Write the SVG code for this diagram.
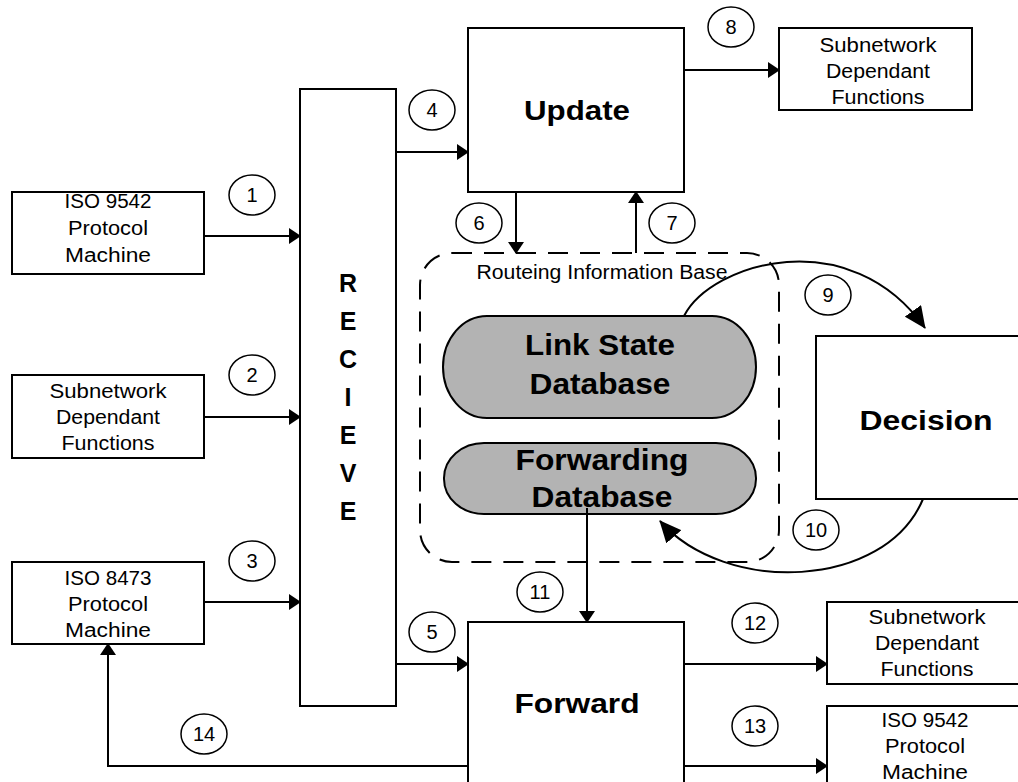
<svg xmlns="http://www.w3.org/2000/svg" width="1018" height="782" viewBox="0 0 1018 782">
<defs>
<style>
.box{fill:#fff;stroke:#000;stroke-width:2}
.pill{fill:#b3b3b3;stroke:#000;stroke-width:2}
.rib{fill:none;stroke:#000;stroke-width:2;stroke-dasharray:20 12}
.ln{fill:none;stroke:#000;stroke-width:2}
.num{fill:#fff;stroke:#000;stroke-width:1.5}
text{font-family:"Liberation Sans",Arial,sans-serif;text-anchor:middle;fill:#000}
.t{font-size:20px}
.b{font-size:28px;font-weight:bold}
.db{font-size:30px;font-weight:bold}
.r{font-size:25px;font-weight:bold}
</style>
<marker id="ah" markerUnits="userSpaceOnUse" markerWidth="12" markerHeight="16" refX="11" refY="8" orient="auto"><path d="M0,0 L12,8 L0,16 z"/></marker>
<marker id="ahb" markerUnits="userSpaceOnUse" markerWidth="22" markerHeight="20" refX="21" refY="10" orient="auto"><path d="M0,0 L22,10 L0,20 z"/></marker>
</defs>
<rect width="1018" height="782" fill="#fff"/>

<g id="rib">
<rect class="rib" x="420" y="253" width="359" height="309" rx="32" ry="32"/>
<text class="t" x="602" y="279" textLength="251" lengthAdjust="spacingAndGlyphs">Routeing Information Base</text>
</g>

<g id="link-state-db">
<rect class="pill" x="443" y="316" width="313" height="102" rx="44" ry="51"/>
<text class="db" x="600" y="355" textLength="150" lengthAdjust="spacingAndGlyphs">Link State</text>
<text class="db" x="600" y="394" textLength="141" lengthAdjust="spacingAndGlyphs">Database</text>
</g>

<g id="forwarding-db">
<rect class="pill" x="444" y="443" width="312" height="71" rx="40" ry="35"/>
<text class="db" x="602" y="470" textLength="173" lengthAdjust="spacingAndGlyphs">Forwarding</text>
<text class="db" x="602" y="507" textLength="141" lengthAdjust="spacingAndGlyphs">Database</text>
</g>

<g id="iso9542-in">
<rect class="box" x="12" y="192" width="192" height="82"/>
<text class="t" x="108" y="208" textLength="87" lengthAdjust="spacingAndGlyphs">ISO 9542</text>
<text class="t" x="108" y="235" textLength="80" lengthAdjust="spacingAndGlyphs">Protocol</text>
<text class="t" x="108" y="262" textLength="86" lengthAdjust="spacingAndGlyphs">Machine</text>
</g>

<g id="subnet-in">
<rect class="box" x="12" y="375" width="192" height="83"/>
<text class="t" x="108" y="398" textLength="117" lengthAdjust="spacingAndGlyphs">Subnetwork</text>
<text class="t" x="108" y="424" textLength="104" lengthAdjust="spacingAndGlyphs">Dependant</text>
<text class="t" x="108" y="450" textLength="93" lengthAdjust="spacingAndGlyphs">Functions</text>
</g>

<g id="iso8473">
<rect class="box" x="12" y="562" width="192" height="82"/>
<text class="t" x="108" y="585" textLength="87" lengthAdjust="spacingAndGlyphs">ISO 8473</text>
<text class="t" x="108" y="611" textLength="80" lengthAdjust="spacingAndGlyphs">Protocol</text>
<text class="t" x="108" y="637" textLength="86" lengthAdjust="spacingAndGlyphs">Machine</text>
</g>

<g id="recieve">
<rect class="box" x="300" y="89" width="96" height="617"/>
<text class="r" x="348" y="292">R</text>
<text class="r" x="348" y="330">E</text>
<text class="r" x="348" y="368">C</text>
<text class="r" x="348" y="406">I</text>
<text class="r" x="348" y="444">E</text>
<text class="r" x="348" y="482">V</text>
<text class="r" x="348" y="520">E</text>
</g>

<g id="update">
<rect class="box" x="468" y="28" width="216" height="164"/>
<text class="b" x="577" y="120" textLength="106" lengthAdjust="spacingAndGlyphs">Update</text>
</g>

<g id="subnet-out-top">
<rect class="box" x="779" y="28" width="193" height="82"/>
<text class="t" x="878" y="52" textLength="117" lengthAdjust="spacingAndGlyphs">Subnetwork</text>
<text class="t" x="878" y="78" textLength="104" lengthAdjust="spacingAndGlyphs">Dependant</text>
<text class="t" x="878" y="104" textLength="93" lengthAdjust="spacingAndGlyphs">Functions</text>
</g>

<g id="decision">
<rect class="box" x="816" y="336" width="220" height="163"/>
<text class="b" x="926" y="430" textLength="133" lengthAdjust="spacingAndGlyphs">Decision</text>
</g>

<g id="forward">
<rect class="box" x="468" y="622" width="216" height="180"/>
<text class="b" x="577" y="713" textLength="125" lengthAdjust="spacingAndGlyphs">Forward</text>
</g>

<g id="subnet-out-bottom">
<rect class="box" x="827" y="602" width="210" height="82"/>
<text class="t" x="927" y="624" textLength="117" lengthAdjust="spacingAndGlyphs">Subnetwork</text>
<text class="t" x="927" y="650" textLength="104" lengthAdjust="spacingAndGlyphs">Dependant</text>
<text class="t" x="927" y="676" textLength="93" lengthAdjust="spacingAndGlyphs">Functions</text>
</g>

<g id="iso9542-out">
<rect class="box" x="827" y="706" width="210" height="100"/>
<text class="t" x="925" y="727" textLength="87" lengthAdjust="spacingAndGlyphs">ISO 9542</text>
<text class="t" x="925" y="753" textLength="80" lengthAdjust="spacingAndGlyphs">Protocol</text>
<text class="t" x="925" y="779" textLength="86" lengthAdjust="spacingAndGlyphs">Machine</text>
</g>

<g id="connectors">
<path class="ln" d="M204,236 H300" marker-end="url(#ah)"/>
<path class="ln" d="M204,417 H300" marker-end="url(#ah)"/>
<path class="ln" d="M204,602 H300" marker-end="url(#ah)"/>
<path class="ln" d="M396,152 H468" marker-end="url(#ah)"/>
<path class="ln" d="M396,664 H468" marker-end="url(#ah)"/>
<path class="ln" d="M516,192 V253" marker-end="url(#ah)"/>
<path class="ln" d="M636,253 V192" marker-end="url(#ah)"/>
<path class="ln" d="M684,70 H779" marker-end="url(#ah)"/>
<path class="ln" d="M587,508 V622" marker-end="url(#ah)"/>
<path class="ln" d="M684,664 H827" marker-end="url(#ah)"/>
<path class="ln" d="M684,766 H827" marker-end="url(#ah)"/>
<path class="ln" d="M468,766 H108 V644" marker-end="url(#ah)"/>
<path class="ln" d="M684,316 C712,262 850,222 925,328" marker-end="url(#ahb)"/>
<path class="ln" d="M923,499 C885,590 725,595 660,521" marker-end="url(#ahb)"/>
</g>

<g id="labels">
<ellipse class="num" cx="252" cy="195" rx="23" ry="20"/><text class="t" x="252" y="202">1</text>
<ellipse class="num" cx="252" cy="375" rx="23" ry="20"/><text class="t" x="252" y="382">2</text>
<ellipse class="num" cx="252" cy="561" rx="23" ry="20"/><text class="t" x="252" y="568">3</text>
<ellipse class="num" cx="432" cy="110" rx="23" ry="20"/><text class="t" x="432" y="117">4</text>
<ellipse class="num" cx="432" cy="632" rx="23" ry="20"/><text class="t" x="432" y="639">5</text>
<ellipse class="num" cx="479" cy="223" rx="23" ry="20"/><text class="t" x="479" y="230">6</text>
<ellipse class="num" cx="672" cy="223" rx="23" ry="20"/><text class="t" x="672" y="230">7</text>
<ellipse class="num" cx="731" cy="27" rx="23" ry="20"/><text class="t" x="731" y="34">8</text>
<ellipse class="num" cx="828" cy="295" rx="23" ry="20"/><text class="t" x="828" y="302">9</text>
<ellipse class="num" cx="816" cy="530" rx="23" ry="20"/><text class="t" x="816" y="537">10</text>
<ellipse class="num" cx="540" cy="592" rx="23" ry="20"/><text class="t" x="540" y="599">11</text>
<ellipse class="num" cx="755" cy="623" rx="23" ry="20"/><text class="t" x="755" y="630">12</text>
<ellipse class="num" cx="755" cy="726" rx="23" ry="20"/><text class="t" x="755" y="733">13</text>
<ellipse class="num" cx="204" cy="734" rx="23" ry="20"/><text class="t" x="204" y="741">14</text>
</g>
</svg>
